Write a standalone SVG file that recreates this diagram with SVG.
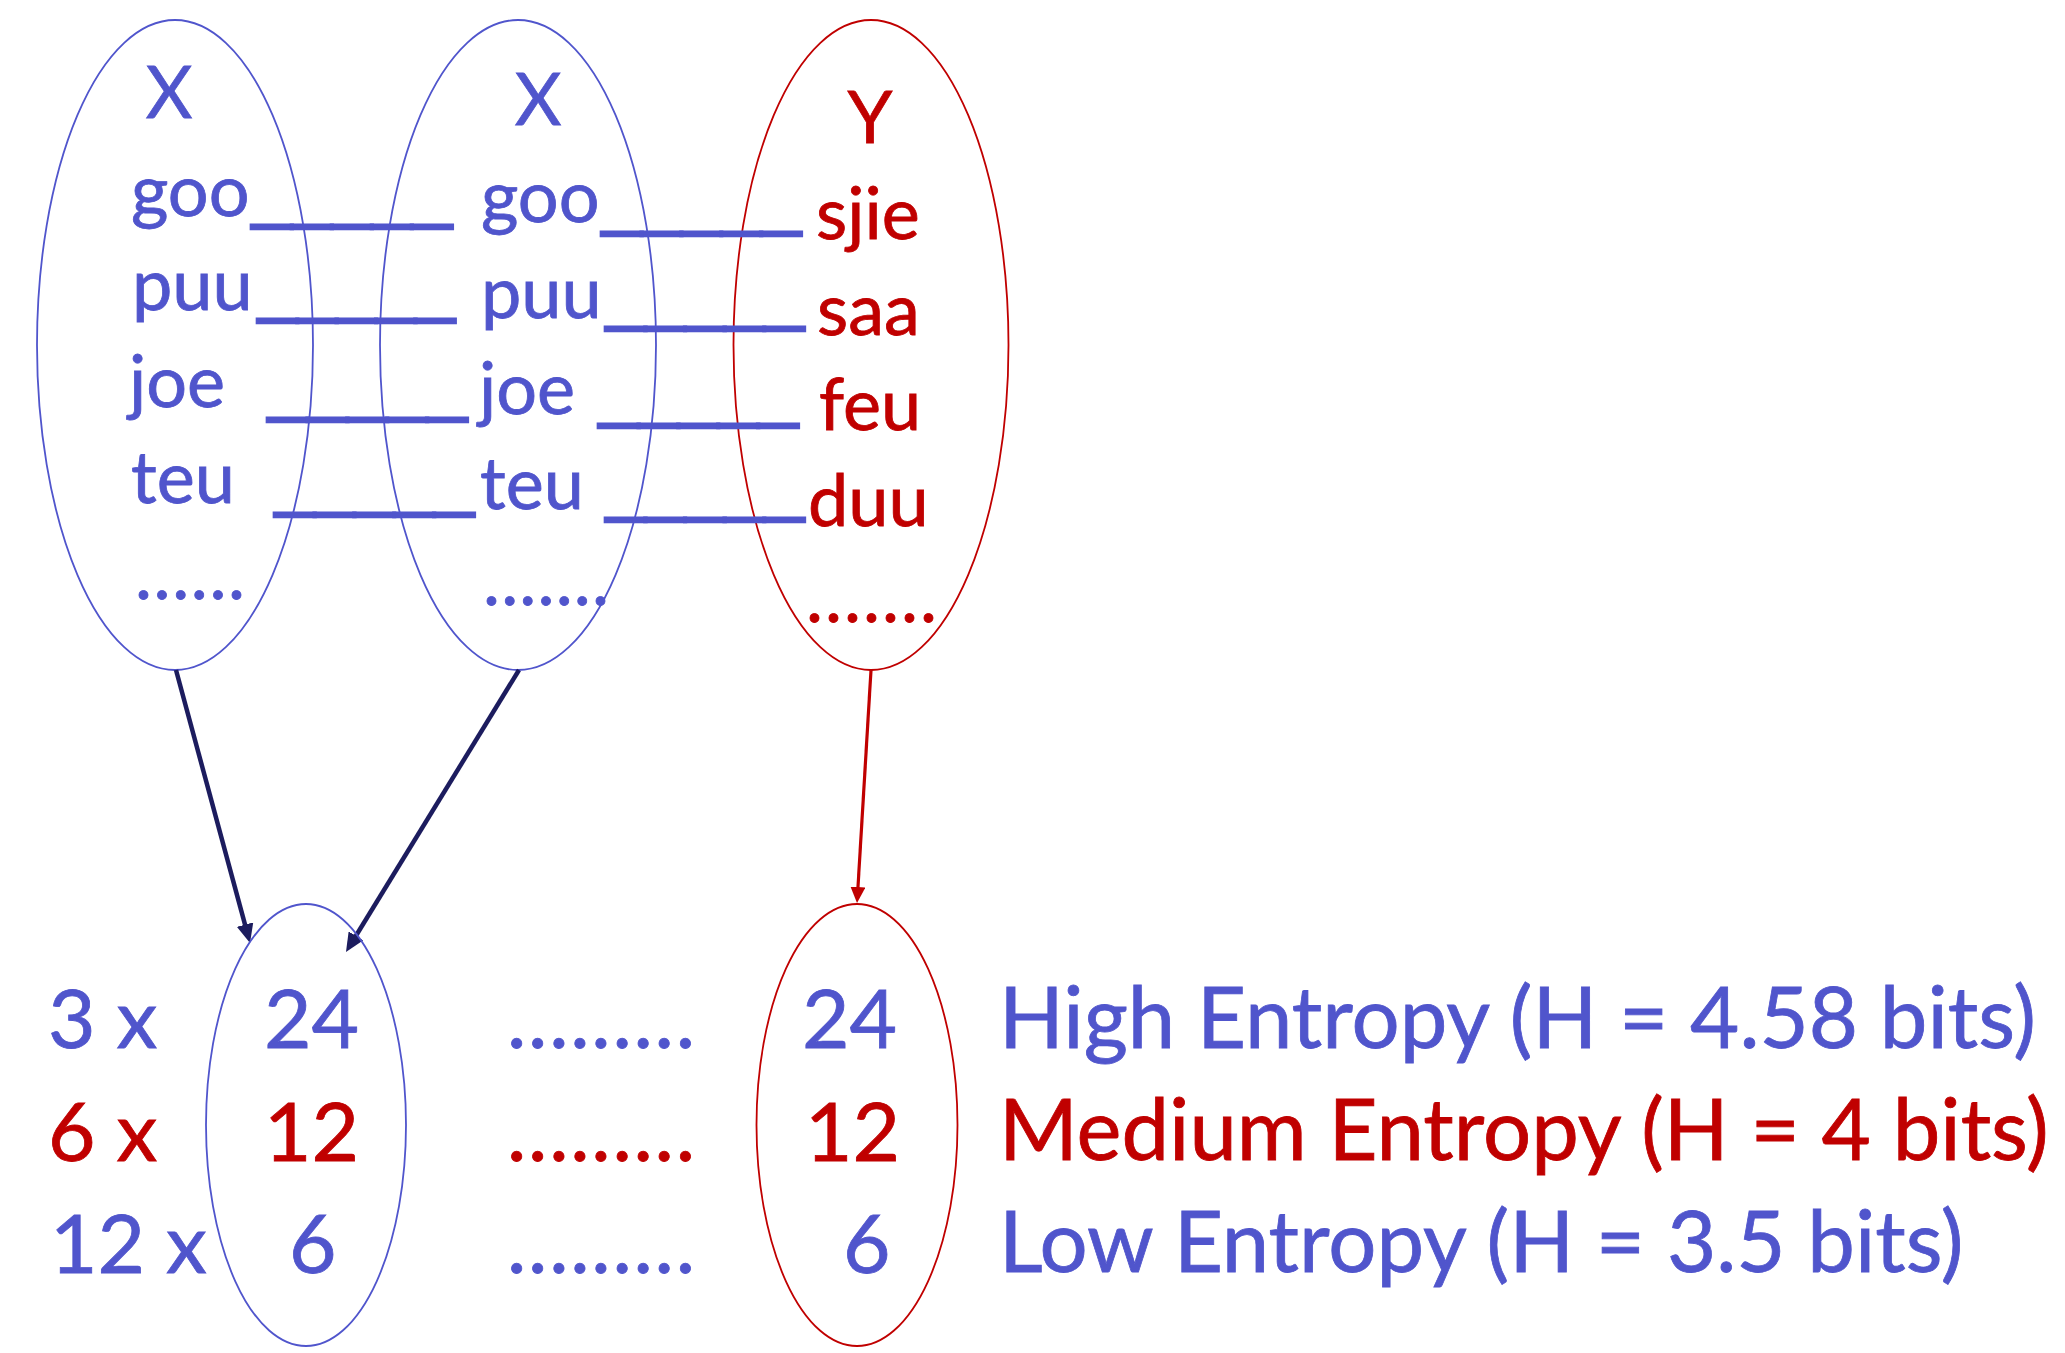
<svg xmlns="http://www.w3.org/2000/svg" width="2065" height="1353" viewBox="0 0 2065 1353">
<defs>
<style>
.b{fill:#5055cc;stroke:#5055cc}
.r{fill:#c00000;stroke:#c00000}
text{font-family:Lato,"Liberation Sans",sans-serif;stroke-width:0.8}
.t{font-size:72px}
.n{font-size:82px}
.w{font-size:85px}
.e{fill:none;stroke-width:1.8}
.eb{stroke:#5055cc}
.er{stroke:#c00000}
.u{font-family:"Liberation Sans",Arial,sans-serif;font-size:69px;fill:#5055cc;stroke:#5055cc;stroke-width:2.4}
</style>
<marker id="ha" markerUnits="userSpaceOnUse" markerWidth="19" markerHeight="17" refX="9" refY="8.5" orient="auto">
<path d="M0,0 L19,8.5 L0,17 z" fill="#1c1c5e"/>
</marker>
<marker id="hr" markerUnits="userSpaceOnUse" markerWidth="16" markerHeight="15" refX="8" refY="7.5" orient="auto">
<path d="M0,0 L16,7.5 L0,15 z" fill="#c00000"/>
</marker>
</defs>
<rect width="2065" height="1353" fill="#fff"/>

<g id="setX1">
<ellipse class="e eb" cx="175" cy="345" rx="138" ry="325"/>
<text class="t b" x="169" y="118" text-anchor="middle">X</text>
<text class="t b" x="131" y="216">goo</text>
<text class="t b" x="132" y="310">puu</text>
<text class="t b" x="129" y="407">joe</text>
<text class="t b" x="131" y="503">teu</text>
<text class="t b" x="135" y="599" textLength="110">......</text>
</g>

<g id="setX2">
<ellipse class="e eb" cx="518" cy="345" rx="138" ry="325"/>
<text class="t b" x="538" y="125" text-anchor="middle">X</text>
<text class="t b" x="481" y="222">goo</text>
<text class="t b" x="481" y="318">puu</text>
<text class="t b" x="479" y="414">joe</text>
<text class="t b" x="480" y="509">teu</text>
<text class="t b" x="483" y="605" textLength="126">.......</text>
</g>

<g id="setY">
<ellipse class="e er" cx="871" cy="345" rx="137.5" ry="325"/>
<text class="t r" x="870" y="143" text-anchor="middle">Y</text>
<text class="t r" x="816" y="239">sjie</text>
<text class="t r" x="817" y="335">saa</text>
<text class="t r" x="819" y="430">feu</text>
<text class="t r" x="808" y="526">duu</text>
<text class="t r" x="806" y="622" textLength="131">.......</text>
</g>

<g id="mapping">
<text class="u" x="252" y="215" textLength="200" lengthAdjust="spacingAndGlyphs">_____</text>
<text class="u" x="258" y="309" textLength="197" lengthAdjust="spacingAndGlyphs">_____</text>
<text class="u" x="268" y="408" textLength="199" lengthAdjust="spacingAndGlyphs">_____</text>
<text class="u" x="275" y="503" textLength="199" lengthAdjust="spacingAndGlyphs">_____</text>
<text class="u" x="602" y="222" textLength="199" lengthAdjust="spacingAndGlyphs">_____</text>
<text class="u" x="606" y="317" textLength="198" lengthAdjust="spacingAndGlyphs">_____</text>
<text class="u" x="599" y="414" textLength="199" lengthAdjust="spacingAndGlyphs">_____</text>
<text class="u" x="606" y="508" textLength="198" lengthAdjust="spacingAndGlyphs">_____</text>
</g>

<g id="connectors">
<path d="M176,670 L247.4,933.3" stroke="#1c1c5e" stroke-width="4.5" fill="none" marker-end="url(#ha)"/>
<path d="M519,670 L351.2,943.5" stroke="#1c1c5e" stroke-width="4.5" fill="none" marker-end="url(#ha)"/>
<path d="M871,670 L857.5,895" stroke="#c00000" stroke-width="3.2" fill="none" marker-end="url(#hr)"/>
</g>

<g id="countsX">
<ellipse class="e eb" cx="306" cy="1125" rx="100" ry="221"/>
<text class="n b" x="264" y="1048">24</text>
<text class="n r" x="264" y="1161">12</text>
<text class="n b" x="289" y="1273">6</text>
</g>

<g id="countsY">
<ellipse class="e er" cx="857" cy="1125" rx="100.5" ry="221"/>
<text class="n b" x="802" y="1048">24</text>
<text class="n r" x="805" y="1161">12</text>
<text class="n b" x="843" y="1273">6</text>
</g>

<g id="multipliers">
<text class="n b" x="48" y="1048">3 x</text>
<text class="n r" x="48" y="1161">6 x</text>
<text class="n b" x="50" y="1273">12 x</text>
</g>

<g id="dots">
<text class="n b" x="507" y="1048" textLength="188">.........</text>
<text class="n r" x="507" y="1161" textLength="188">.........</text>
<text class="n b" x="507" y="1273" textLength="188">.........</text>
</g>

<g id="entropy">
<text class="w b" x="999" y="1048">High Entropy (H = 4.58 bits)</text>
<text class="w r" x="999" y="1160">Medium Entropy (H = 4 bits)</text>
<text class="w b" x="999" y="1272">Low Entropy (H = 3.5 bits)</text>
</g>
</svg>
